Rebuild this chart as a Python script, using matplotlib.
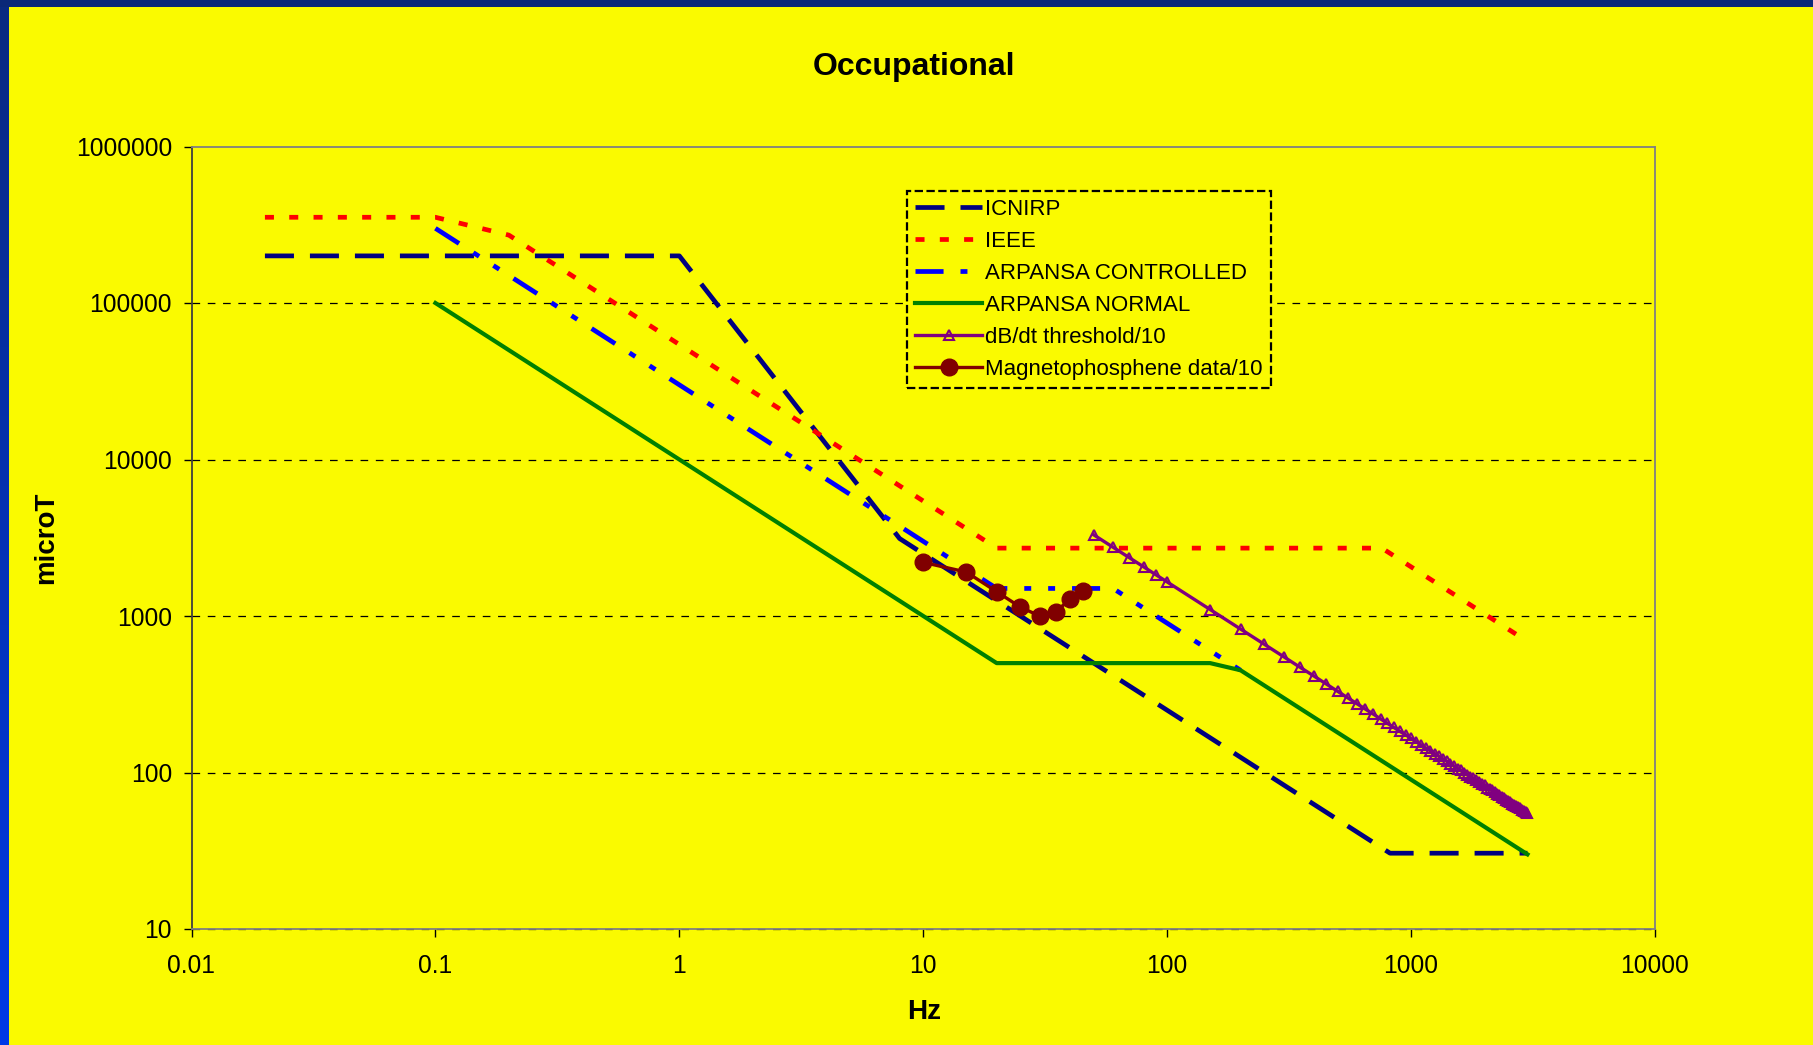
import matplotlib
matplotlib.use("Agg")
import matplotlib.pyplot as plt
import numpy as np
from matplotlib.patches import Rectangle
from matplotlib.colors import LinearSegmentedColormap

plt.rcParams['font.family'] = ['Liberation Sans', 'DejaVu Sans']
plt.rcParams['lines.scale_dashes'] = False

# ---------------- data ----------------
icnirp_f = [0.02, 1, 8, 820, 3000]
icnirp_b = [200000, 200000, 3125, 30.5, 30.5]

ieee_f = [0.02, 0.1, 0.2, 1, 20, 759, 3000]
ieee_b = [353000, 353000, 271500, 54300, 2715, 2715, 687]

arp_c_f = [0.1, 20, 60, 200]
arp_c_b = [300000, 1500, 1500, 450]

arp_n_f = [0.1, 20, 150, 200, 3000]
arp_n_b = [100000, 500, 500, 450, 30]

dbdt_f = [50, 60, 70, 80, 90, 100, 150, 200, 250, 300, 350, 400, 450, 500,
          550, 600, 650, 700, 750, 800, 850, 900, 950, 1000, 1050, 1100, 1150,
          1200, 1250, 1300, 1350, 1400, 1450, 1500, 1550, 1600, 1650, 1700,
          1750, 1800, 1850, 1900, 1950, 2000, 2050, 2100, 2150, 2200, 2250,
          2300, 2350, 2400, 2450, 2500, 2550, 2600, 2650, 2700, 2750, 2800,
          2850, 2900, 2950, 3000]
dbdt_b = [3300, 2750, 2357, 2063, 1833, 1650, 1100, 825, 660, 550, 471, 413,
          367, 330, 300, 275, 254, 236, 220, 206, 194, 183, 174, 165, 157, 150,
          143, 138, 132, 127, 122, 118, 114, 110, 106, 103, 100, 97, 94, 92,
          89, 87, 85, 83, 80, 79, 77, 75, 73, 72, 70, 69, 67, 66, 65, 63, 62,
          61, 60, 59, 58, 57, 56, 55]

mag_f = [10, 15, 20, 25, 30, 35, 40, 45]
mag_b = [2200, 1910, 1430, 1140, 1000, 1060, 1290, 1450]

x_ticks = [0.01, 0.1, 1, 10, 100, 1000, 10000]
x_labels = ["0.01", "0.1", "1", "10", "100", "1000", "10000"]
y_ticks = [10, 100, 1000, 10000, 100000, 1000000]
y_labels = ["10", "100", "1000", "10000", "100000", "1000000"]

labels = ["ICNIRP", "IEEE", "ARPANSA CONTROLLED", "ARPANSA NORMAL",
          "dB/dt threshold/10", "Magnetophosphene data/10"]

# ---------------- figure ----------------
W, H = 1813, 1045
DPI = 100
BG = '#FAFA00'
fig = plt.figure(figsize=(W / DPI, H / DPI), dpi=DPI, facecolor=BG)

# blue frame (top & left)
grad_ax = fig.add_axes([0, 0, 9 / W, 1])
grad = np.linspace(0, 1, 256).reshape(-1, 1)
cm = LinearSegmentedColormap.from_list('b', ['#0039E6', '#0A2A80'])
grad_ax.imshow(grad, aspect='auto', cmap=cm, origin='lower', extent=[0, 1, 0, 1])
grad_ax.axis('off')
fig.patches.append(Rectangle((0, 1 - 7 / H), 1, 7 / H, transform=fig.transFigure,
                             facecolor='#0A2878', edgecolor='none', zorder=5))

L, R, T, B = 191.5, 1655, 146.5, 929
ax = fig.add_axes([L / W, 1 - B / H, (R - L) / W, (B - T) / H])
ax.set_facecolor(BG)
ax.set_xscale('log')
ax.set_yscale('log')
ax.set_xlim(0.01, 10000)
ax.set_ylim(10, 1000000)

ax.set_xticks(x_ticks)
ax.set_xticklabels(x_labels)
ax.set_yticks(y_ticks)
ax.set_yticklabels(y_labels)
ax.minorticks_off()
ax.tick_params(axis='both', direction='out', length=5.5, width=1.0, labelsize=17.7,
               colors='black')
ax.tick_params(axis='x', pad=12.5)
ax.tick_params(axis='y', pad=8.5)

for s in ['top', 'right', 'bottom']:
    ax.spines[s].set_color('#808080')
    ax.spines[s].set_linewidth(1.3)
ax.spines['left'].set_color('#404040')
ax.spines['left'].set_linewidth(1.3)

# horizontal gridlines (not at the top edge)
for yv in y_ticks[:-1]:
    ax.axhline(yv, color='black', linewidth=0.9, linestyle=(0, (5.5, 5.5)),
               zorder=2.5, clip_on=False)

lw = 3.4
ax.plot(icnirp_f, icnirp_b, color='#000080', lw=lw, linestyle=(0, (20.9, 11.5)),
        label=labels[0], zorder=3)
ax.plot(ieee_f, ieee_b, color='#FF0000', lw=lw, linestyle=(0, (6.5, 11.0)),
        label=labels[1], zorder=3)
ax.plot(arp_c_f, arp_c_b, color='#0000FF', lw=lw,
        linestyle=(0, (20.2, 12.2, 5, 12.2, 5, 12.2)), label=labels[2], zorder=3)
ax.plot(arp_n_f, arp_n_b, color='#008000', lw=3.0, label=labels[3], zorder=3)
ax.plot(dbdt_f, dbdt_b, color='#800080', lw=2.4, marker='^', markersize=6.5,
        markerfacecolor='none', markeredgecolor='#800080', markeredgewidth=1.5,
        label=labels[4], zorder=4)
ax.plot(mag_f, mag_b, color='#800000', lw=2.4, marker='o', markersize=12,
        markerfacecolor='#800000', markeredgecolor='#800000',
        label=labels[5], zorder=5)

leg = ax.legend(loc='upper left', bbox_to_anchor=((907.3 - L) / (R - L), (B - 190.7) / (B - T)),
                borderaxespad=0, fontsize=16, frameon=True, fancybox=False,
                facecolor=BG, edgecolor='black', framealpha=1,
                handlelength=3.0, handletextpad=0.15, labelspacing=0.5,
                borderpad=0.36)
fr = leg.get_frame()
fr.set_linestyle((0, (6, 2.5)))
fr.set_linewidth(1.6)
leg.set_zorder(6)

fig.text(914 / W, 1 - 66.5 / H, "Occupational", fontsize=23, fontweight='bold',
         ha='center', va='center')
fig.text(924 / W, 1 - 1011.7 / H, "Hz", fontsize=20, fontweight='bold',
         ha='center', va='center')
fig.text(46 / W, 1 - 537.7 / H, "microT", fontsize=20, fontweight='bold',
         ha='center', va='center', rotation=90)

fig.savefig('out.png', dpi=DPI, facecolor=BG)
